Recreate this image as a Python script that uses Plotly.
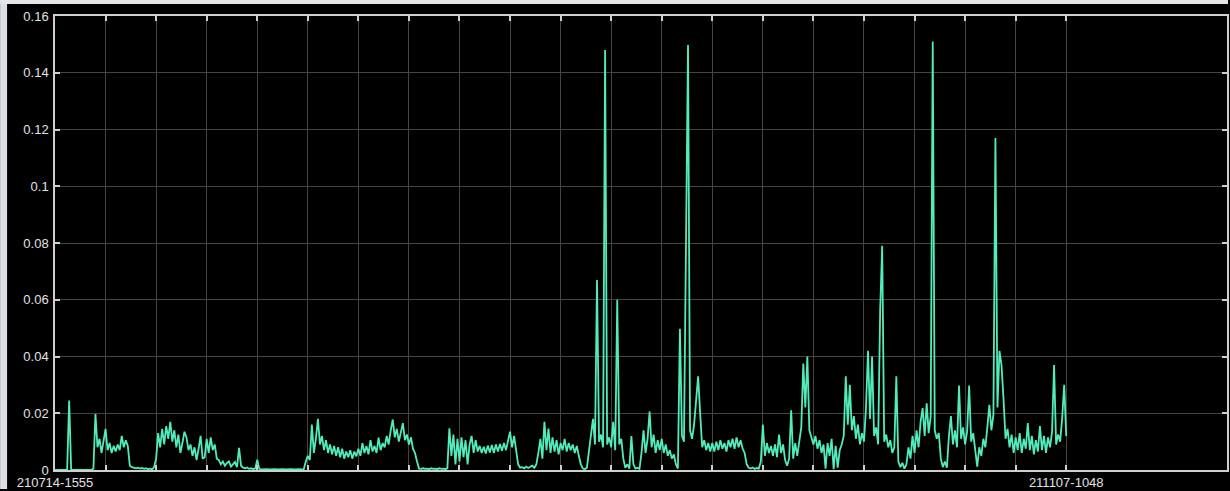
import plotly.graph_objects as go

# ---- data: 25 samples per x-tick interval (20 intervals) + final sample ----
seg00 = [0, 0, 0, 0, 0, 0, 0, 0.0245, 0, 0, 0, 0, 0, 0, 0, 0, 0, 0, 0, 0.0005, 0.0197, 0.008, 0.011, 0.006, 0.010]
seg01 = [0.0145, 0.007, 0.0095, 0.006, 0.0085, 0.0065, 0.009, 0.007, 0.012, 0.008, 0.0105, 0.0085, 0.0015, 0.001, 0.0008, 0.0006, 0.0008, 0.0005, 0.0007, 0.0004, 0.0006, 0.0003, 0.0005, 0.0002, 0.001]
seg02 = [0.004, 0.013, 0.008, 0.0145, 0.009, 0.0155, 0.011, 0.017, 0.010, 0.014, 0.008, 0.0125, 0.006, 0.0095, 0.0135, 0.0115, 0.007, 0.009, 0.005, 0.008, 0.0035, 0.0075, 0.012, 0.004, 0.0045]
seg03 = [0.011, 0.006, 0.0115, 0.007, 0.009, 0.004, 0.0035, 0.002, 0.003, 0.0015, 0.0025, 0.003, 0.0012, 0.002, 0.0028, 0.001, 0.0078, 0.0015, 0.0008, 0.0006, 0.0009, 0.0004, 0.0006, 0.0003, 0.0005]
seg04 = [0.0036, 0.0004, 0.0002, 0.0003, 0.0002, 0.0003, 0.0002, 0.0003, 0.0002, 0.0003, 0.0002, 0.0003, 0.0002, 0.0003, 0.0002, 0.0003, 0.0002, 0.0003, 0.0002, 0.0003, 0.0002, 0.0003, 0.0002, 0.0003, 0.003]
seg05 = [0.005, 0.0035, 0.016, 0.006, 0.011, 0.018, 0.009, 0.012, 0.007, 0.0105, 0.006, 0.009, 0.0055, 0.0085, 0.005, 0.008, 0.0045, 0.0075, 0.004, 0.0065, 0.0045, 0.007, 0.004, 0.0065, 0.0048]
seg06 = [0.0075, 0.005, 0.0095, 0.006, 0.0085, 0.0055, 0.0105, 0.0065, 0.0085, 0.006, 0.0114, 0.007, 0.0095, 0.008, 0.012, 0.009, 0.014, 0.0178, 0.0115, 0.0145, 0.010, 0.013, 0.0165, 0.0105, 0.0125]
seg07 = [0.009, 0.0115, 0.0075, 0.006, 0.003, 0.0005, 0.0004, 0.0006, 0.0004, 0.0005, 0.0003, 0.0006, 0.0004, 0.0005, 0.0003, 0.0006, 0.0004, 0.0005, 0.0003, 0.0006, 0.0147, 0.005, 0.0125, 0.002, 0.011]
seg08 = [0.003, 0.0115, 0.0045, 0.0105, 0.002, 0.009, 0.012, 0.006, 0.0105, 0.0065, 0.0085, 0.006, 0.0082, 0.0058, 0.0086, 0.0062, 0.0088, 0.006, 0.009, 0.0065, 0.0092, 0.0068, 0.0095, 0.007, 0.0105]
seg09 = [0.0135, 0.008, 0.012, 0.007, 0.002, 0.0008, 0.001, 0.0006, 0.0012, 0.0007, 0.001, 0.0015, 0.0008, 0.002, 0.006, 0.011, 0.004, 0.017, 0.007, 0.0146, 0.006, 0.0115, 0.0065, 0.0105, 0.0055]
seg10 = [0.0095, 0.007, 0.011, 0.0065, 0.0095, 0.007, 0.009, 0.006, 0.0085, 0.005, 0.002, 0.0005, 0.0003, 0.0008, 0.007, 0.012, 0.018, 0.009, 0.067, 0.010, 0.0125, 0.008, 0.148, 0.009, 0.0115]
seg11 = [0.008, 0.017, 0.007, 0.060, 0.009, 0.011, 0.004, 0.0008, 0.002, 0.0005, 0.012, 0.002, 0.0005, 0.0008, 0.0004, 0.006, 0.014, 0.006, 0.011, 0.0206, 0.008, 0.0125, 0.006, 0.0105, 0.007]
seg12 = [0.011, 0.006, 0.009, 0.005, 0.007, 0.004, 0.0055, 0.002, 0.0005, 0.0498, 0.012, 0.010, 0.075, 0.1498, 0.014, 0.011, 0.016, 0.024, 0.033, 0.020, 0.008, 0.0105, 0.007, 0.0095, 0.0065]
seg13 = [0.0095, 0.0065, 0.010, 0.007, 0.0105, 0.0075, 0.0095, 0.0065, 0.0105, 0.008, 0.011, 0.0075, 0.0115, 0.008, 0.0105, 0.0075, 0.006, 0.002, 0.0008, 0.0005, 0.0009, 0.0004, 0.0007, 0.0005, 0.003]
seg14 = [0.016, 0.005, 0.0095, 0.006, 0.0085, 0.005, 0.009, 0.0045, 0.0125, 0.006, 0.009, 0.0035, 0.0015, 0.004, 0.021, 0.004, 0.0095, 0.005, 0.011, 0.015, 0.0375, 0.022, 0.040, 0.014, 0.0115]
seg15 = [0.009, 0.012, 0.0075, 0.0105, 0.006, 0.009, 0.0005, 0.0095, 0.005, 0.011, 0.0003, 0.0085, 0.0008, 0.007, 0.009, 0.012, 0.033, 0.016, 0.030, 0.014, 0.019, 0.011, 0.016, 0.009, 0.013]
seg16 = [0.010, 0.022, 0.042, 0.018, 0.040, 0.012, 0.015, 0.009, 0.056, 0.079, 0.010, 0.0125, 0.008, 0.0105, 0.006, 0.008, 0.033, 0.003, 0.001, 0.0025, 0.0005, 0.002, 0.008, 0.004, 0.012]
seg17 = [0.006, 0.014, 0.008, 0.017, 0.0218, 0.012, 0.0235, 0.013, 0.019, 0.151, 0.014, 0.011, 0.013, 0.004, 0.001, 0.003, 0.0008, 0.012, 0.019, 0.009, 0.014, 0.008, 0.0298, 0.011, 0.015]
seg18 = [0.009, 0.0135, 0.0298, 0.010, 0.013, 0.006, 0.0012, 0.008, 0.005, 0.011, 0.008, 0.015, 0.023, 0.014, 0.0195, 0.117, 0.022, 0.042, 0.037, 0.025, 0.011, 0.0145, 0.008, 0.0125, 0.006]
seg19 = [0.0115, 0.007, 0.013, 0.006, 0.011, 0.0075, 0.0165, 0.007, 0.012, 0.0055, 0.0105, 0.0065, 0.0155, 0.007, 0.012, 0.006, 0.0115, 0.008, 0.0135, 0.037, 0.009, 0.0125, 0.010, 0.0183, 0.030]
final_value = [0.012]

values = (seg00 + seg01 + seg02 + seg03 + seg04 + seg05 + seg06 + seg07 + seg08 + seg09 +
          seg10 + seg11 + seg12 + seg13 + seg14 + seg15 + seg16 + seg17 + seg18 + seg19 + final_value)

samples_per_tick = 25
x_tick_positions = list(range(21))
x_tick_labels = ["210714-1555"] + [""] * 19 + ["211107-1048"]
y_tick_values = [0, 0.02, 0.04, 0.06, 0.08, 0.1, 0.12, 0.14, 0.16]
y_tick_labels = ["0", "0.02", "0.04", "0.06", "0.08", "0.1", "0.12", "0.14", "0.16"]

x = [i / samples_per_tick for i in range(len(values))]

fig = go.Figure()
fig.add_trace(go.Scatter(
    x=x, y=values, mode="lines",
    line=dict(color="#52ecbc", width=1.8),
    hoverinfo="skip", showlegend=False,
))

axis_common = dict(
    showgrid=True, gridcolor="#444444", gridwidth=1,
    showline=True, linecolor="#cfcfcf", linewidth=1.5, mirror="ticks",
    ticks="inside", ticklen=5, tickwidth=1.5, tickcolor="#cfcfcf",
    zeroline=False,
    tickfont=dict(family="Liberation Sans, Arial, sans-serif", size=13, color="#e2e2e2"),
)

fig.update_xaxes(range=[0, 23.18], tickmode="array", tickvals=x_tick_positions,
                 ticktext=x_tick_labels, ticklabelstandoff=0, **axis_common)
fig.update_yaxes(range=[0, 0.16], tickmode="array", tickvals=y_tick_values,
                 ticktext=y_tick_labels, ticklabelstandoff=2, **axis_common)

# light frame strips at the image edges (left and top)
fig.add_shape(type="rect", xref="paper", yref="paper",
              x0=-55 / 1174, x1=-48 / 1174, y0=-19 / 456, y1=472 / 456,
              fillcolor="#dcdfe2", line=dict(width=0), layer="above")
fig.add_shape(type="rect", xref="paper", yref="paper",
              x0=-55 / 1174, x1=1175 / 1174, y0=468 / 456, y1=472 / 456,
              fillcolor="#e4e6e8", line=dict(width=0), layer="above")

fig.update_layout(
    width=1230, height=491,
    margin=dict(l=55, r=1, t=16, b=19),
    paper_bgcolor="black", plot_bgcolor="black",
    showlegend=False,
)

fig.write_html("out.html")
